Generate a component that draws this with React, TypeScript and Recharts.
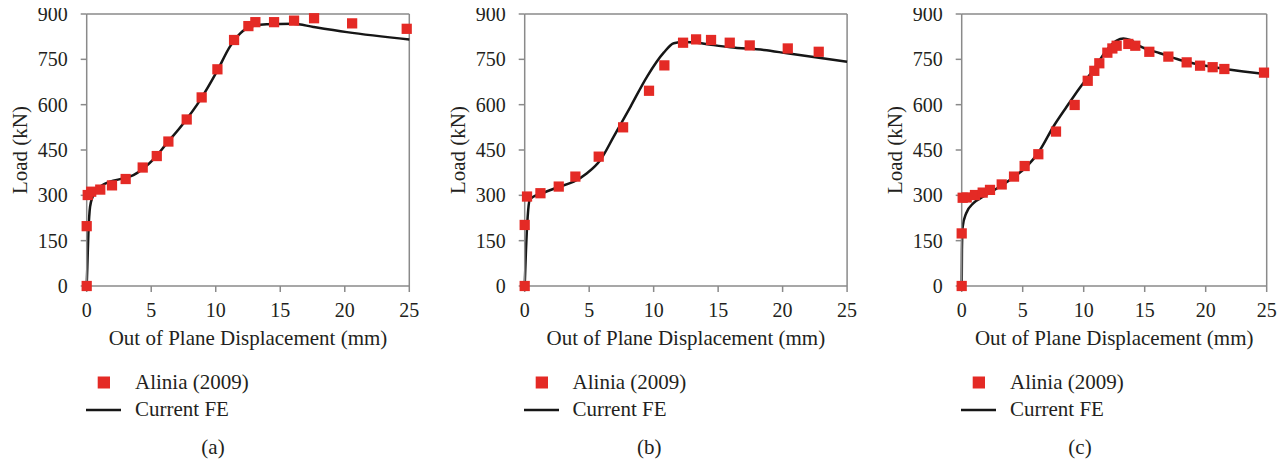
import React from 'react';
import {
  ComposedChart, Line, Scatter, XAxis, YAxis, ZAxis, ReferenceLine, Legend,
} from 'recharts';

const FONT = "Liberation Serif, DejaVu Serif, serif";
const TEXT = '#231f20';
const AXIS = '#8a8a8a';
const RED = '#e42a25';
const BLACK = '#161616';

const xTicks = [0, 5, 10, 15, 20, 25];
const yTicks = [0, 150, 300, 450, 600, 750, 900];
const seriesNames = ['Alinia (2009)', 'Current FE'];
const panelLabels = ['(a)', '(b)', '(c)'];
const xTitle = 'Out of Plane Displacement (mm)';
const yTitle = 'Load (kN)';

// Panel (a)
const testA: [number, number][] = [
  [0, 0], [0, 198], [0.08, 301], [0.35, 312], [1.05, 319], [1.96, 333], [3.02, 354],
  [4.34, 392], [5.43, 430], [6.33, 478], [7.75, 551], [8.91, 624], [10.13, 717],
  [11.42, 814], [12.53, 860], [13.07, 873], [14.52, 873], [16.07, 878], [17.62, 886],
  [20.57, 869], [24.8, 851],
];
const feA: [number, number][] = [
  [0, 0], [0.05, 64], [0.13, 174], [0.26, 262], [0.47, 296], [0.9, 323], [1.8, 345],
  [2.84, 356], [3.62, 367], [4.39, 389], [5.17, 419], [6.2, 472], [7.49, 538],
  [8.79, 615], [10.08, 709], [11.1, 792], [11.9, 836], [12.66, 858], [13.95, 866],
  [16.0, 868], [17.57, 857], [20.16, 840], [25, 816],
];

// Panel (b)
const testB: [number, number][] = [
  [0, 0], [0, 202], [0.18, 296], [1.22, 307], [2.64, 329], [3.93, 362], [5.74, 428],
  [7.63, 525], [9.64, 646], [10.83, 730], [12.28, 805], [13.29, 816], [14.45, 814],
  [15.9, 805], [17.45, 796], [20.4, 786], [22.8, 775],
];
const feB: [number, number][] = [
  [0, 0], [0.1, 119], [0.23, 229], [0.39, 285], [0.7, 296], [1.47, 309], [2.5, 326],
  [3.8, 345], [4.83, 373], [5.87, 417], [6.9, 494], [8.2, 593], [9.49, 693],
  [10.78, 772], [11.56, 803], [12.33, 807], [13.37, 805], [14.66, 797], [15.95, 790],
  [18.54, 781], [20.35, 770], [25, 742],
];

// Panel (c)
const testC: [number, number][] = [
  [0, 0], [0, 174], [0.08, 292], [0.41, 293], [1.09, 301], [1.72, 309], [2.32, 318],
  [3.28, 336], [4.29, 362], [5.16, 397], [6.28, 436], [7.73, 511], [9.26, 599],
  [10.33, 679], [10.87, 712], [11.28, 737], [11.94, 772], [12.35, 786], [12.7, 795],
  [13.66, 801], [14.23, 795], [15.38, 775], [16.94, 759], [18.44, 740], [19.54, 729],
  [20.57, 724], [21.53, 718], [24.78, 706],
];
const feC: [number, number][] = [
  [0, 0], [0.02, 119], [0.08, 196], [0.36, 240], [0.96, 274], [1.78, 296], [3.14, 329],
  [4.51, 367], [5.33, 395], [6.42, 450], [7.51, 527], [8.6, 593], [9.7, 657],
  [10.79, 715], [11.89, 781], [12.7, 812], [13.25, 819], [13.8, 814], [14.6, 794],
  [16.26, 770], [17.9, 748], [20.36, 726], [21.72, 717], [25, 701],
];

const toPts = (arr: [number, number][]) => arr.map(([x, y]) => ({ x, y }));

const panels = [
  { test: testA, fe: feA, plotLeft: 86.7, plotRight: 409.3 },
  { test: testB, fe: feB, plotLeft: 524.3, plotRight: 846.7 },
  { test: testC, fe: feC, plotLeft: 961.7, plotRight: 1266.7 },
];

const Y_AXIS_W = 76.7;
const M_LEFT = 10;
const M_RIGHT = 10;
const CHART_H = 360;

const renderLegend = (props: any) => {
  const items = [...(props.payload || [])].sort(
    (a: any, b: any) => seriesNames.indexOf(a.value) - seriesNames.indexOf(b.value)
  );
  return (
    <div style={{ fontFamily: FONT, fontSize: 21, color: TEXT }}>
      {items.map((it: any) => (
        <div key={it.value} style={{ display: 'flex', alignItems: 'center', height: 27 }}>
          <svg width={49} height={27} style={{ flex: 'none' }}>
            {it.type === 'square' ? (
              <rect x={11.7} y={7.5} width={12.3} height={12} fill={it.color} />
            ) : (
              <line x1={0} x2={35} y1={14} y2={14} stroke={it.color} strokeWidth={2.5} />
            )}
          </svg>
          <span style={{ whiteSpace: 'nowrap' }}>{it.value}</span>
        </div>
      ))}
    </div>
  );
};

function Panel({ idx }: { idx: number }) {
  const p = panels[idx];
  const divLeft = p.plotLeft - M_LEFT - Y_AXIS_W;
  const width = p.plotRight - divLeft + M_RIGHT;
  const tickStyle = { fontSize: 20, fill: TEXT, fontFamily: FONT };
  return (
    <div style={{ position: 'absolute', left: divLeft, top: 0 }}>
      <ComposedChart
        width={width}
        height={CHART_H}
        margin={{ top: 14, right: M_RIGHT, left: M_LEFT, bottom: 14 }}
        style={{ fontFamily: FONT }}
      >
        <XAxis
          type="number"
          dataKey="x"
          domain={[0, 25]}
          ticks={xTicks}
          interval={0}
          height={60}
          stroke={AXIS}
          strokeWidth={1.5}
          tickSize={6}
          tickMargin={11}
          tick={tickStyle}
          label={{
            value: xTitle,
            position: 'insideBottom',
            offset: 1,
            style: { fontSize: 21, fill: TEXT, fontFamily: FONT },
          }}
        />
        <YAxis
          type="number"
          domain={[0, 900]}
          ticks={yTicks}
          interval={0}
          width={Y_AXIS_W}
          stroke={AXIS}
          strokeWidth={1.5}
          tickSize={6}
          tickMargin={13}
          tick={tickStyle}
          label={{
            value: yTitle,
            angle: -90,
            position: 'insideLeft',
            offset: 10,
            style: { fontSize: 21, fill: TEXT, fontFamily: FONT, textAnchor: 'middle' },
          }}
        />
        <ZAxis range={[105, 105]} />
        <ReferenceLine y={900} stroke={AXIS} strokeWidth={1.5} />
        <ReferenceLine x={25} stroke={AXIS} strokeWidth={1.5} />
        <Line
          name={seriesNames[1]}
          data={toPts(p.fe)}
          dataKey="y"
          type="monotone"
          stroke={BLACK}
          strokeWidth={2.5}
          dot={false}
          legendType="line"
          isAnimationActive={false}
        />
        <Scatter
          name={seriesNames[0]}
          data={toPts(p.test)}
          dataKey="y"
          fill={RED}
          shape="square"
          legendType="square"
          isAnimationActive={false}
        />
        <Legend
          layout="vertical"
          align="center"
          verticalAlign="middle"
          content={renderLegend}
          wrapperStyle={{ position: 'absolute', left: p.plotLeft - divLeft - 0.7, top: 368.5, width: 300 }}
        />
      </ComposedChart>
    </div>
  );
}

const captionCenters = [213, 649.3, 1080];

export default function App() {
  return (
    <div style={{ position: 'relative', left: -8, top: -8, width: 1286, height: 462, background: '#fff', overflow: 'hidden', fontFamily: FONT }}>
      {panels.map((_, i) => (
        <Panel key={i} idx={i} />
      ))}
      {panelLabels.map((t, i) => (
        <div
          key={t}
          style={{
            position: 'absolute',
            left: captionCenters[i] - 50,
            width: 100,
            top: 436,
            lineHeight: '22px',
            textAlign: 'center',
            fontFamily: FONT,
            fontSize: 21,
            color: TEXT,
          }}
        >
          {t}
        </div>
      ))}
    </div>
  );
}
